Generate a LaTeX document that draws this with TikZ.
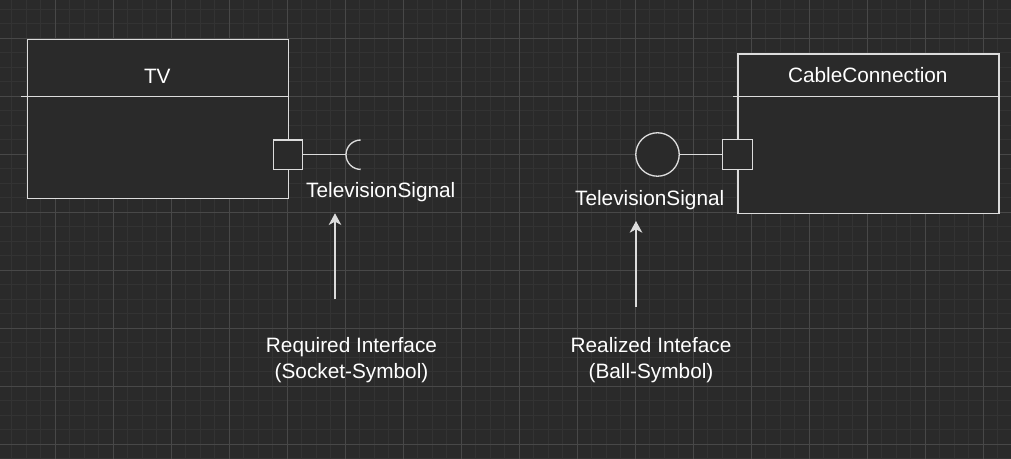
\documentclass[tikz,border=0pt]{standalone}
\usepackage{fontspec}
\setmainfont{Liberation Sans}
\usetikzlibrary{arrows.meta}
\definecolor{bgc}{HTML}{2A2A2A}
\definecolor{gridminor}{HTML}{333333}
\definecolor{gridmajor}{HTML}{484848}
\definecolor{linec}{HTML}{DCDCDC}
\tikzset{
	box/.style={draw=linec,fill=bgc,line width=1pt,inner sep=0pt,anchor=north west}
}
\tikzset{
	port/.style={draw=linec,fill=bgc,line width=1pt,minimum size=22.1pt,inner sep=0pt}
}
\tikzset{
	lbl/.style={text=white,font=\fontsize{15.6}{19.5}\selectfont,align=center,inner sep=0pt,anchor=base}
}
\tikzset{
	edge/.style={draw=linec,line width=1pt}
}

\begin{document}
\begin{tikzpicture}[x=0.75pt,y=-0.75pt]
	\useasboundingbox (0,0) rectangle (1011,459);
	\fill[bgc] (0,0) rectangle (1011,459);
	%grid
	\foreach \i in {0,...,70}{
		\draw[gridminor,line width=0.6pt] (-3+14.5*\i,0) -- (-3+14.5*\i,459);
	}
	\foreach \j in {0,...,33}{
		\draw[gridminor,line width=0.6pt] (0,-19.7+14.5*\j) -- (1011,-19.7+14.5*\j);
	}
	\foreach \i in {0,...,17}{
		\draw[gridmajor,line width=0.6pt] (-3+58*\i,0) -- (-3+58*\i,459);
	}
	\foreach \j in {0,...,8}{
		\draw[gridmajor,line width=0.6pt] (0,-19.7+58*\j) -- (1011,-19.7+58*\j);
	}
	%TV
	\node[box,minimum width=195.5pt,minimum height=119.3pt] (tv) at (27,38.7) {};
	\draw[edge] (21.3,96.3) -- (287.7,96.3);
	\node[lbl] (tvname) at (157.3,83.3) {TV};
	\node[port] (tvport) at (288,154.7) {};
	\coordinate (sockL) at (346,154.7);
	\draw[edge] (sockL) arc[start angle=180,end angle=90,radius=14.7];
	\draw[edge] (sockL) arc[start angle=180,end angle=270,radius=14.7];
	\draw[edge] (tvport.east) -- (sockL);
	\node[lbl] (sigreq) at (380.8,198) {TelevisionSignal};
	%CableConnection
	\node[box,minimum width=195.8pt,minimum height=119.5pt] (cable) at (737.3,53.3) {};
	\draw[edge] (733.3,96.7) -- (998.3,96.7);
	\node[lbl] (cablename) at (867.8,82.7) {CableConnection};
	\node[port] (cableport) at (737.5,154.5) {};
	\node[draw=linec,fill=bgc,line width=1pt,circle,minimum size=32.6pt,inner sep=0pt] (ball) at (657.5,154.5) {};
	\draw[edge] (ball.east) -- (cableport.west);
	\node[lbl] (sigreal) at (649.7,206) {TelevisionSignal};
	%notes
	\node[lbl] (reqnote) at (351.5,379) {Required Interface\\(Socket-Symbol)};
	\node[lbl] (realnote) at (651,378.3) {Realized Inteface\\(Ball-Symbol)};
	\coordinate (reqtail) at (335,299.3);
	\coordinate (reqtip) at (335,213.3);
	\coordinate (realtail) at (636,306.7);
	\coordinate (realtip) at (636,221);
	\draw[edge,-{Stealth[length=8.8pt,width=9.5pt,inset=2.6pt]}] (reqtail) -- (reqtip);
	\draw[edge,-{Stealth[length=8.8pt,width=9.5pt,inset=2.6pt]}] (realtail) -- (realtip);
\end{tikzpicture}
\end{document}
